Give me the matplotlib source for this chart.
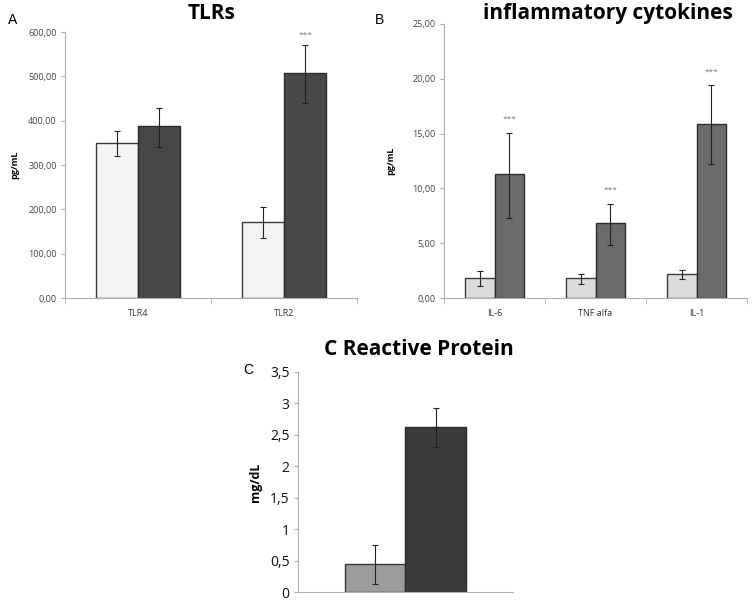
import matplotlib
matplotlib.use("Agg")
import matplotlib.pyplot as plt
import numpy as np

# ---- data ----
tlr_cats = ["TLR4", "TLR2"]
tlr_ctrl = [350, 172]
tlr_ctrl_err_lo = [30, 37]
tlr_ctrl_err_hi = [26, 33]
tlr_pat = [387, 507]
tlr_pat_err_lo = [47, 67]
tlr_pat_err_hi = [41, 63]
tlr_sig = ["", "***"]

cyt_cats = ["IL-6", "TNF alfa", "IL-1"]
cyt_ctrl = [1.85, 1.8, 2.2]
cyt_ctrl_err_lo = [0.75, 0.5, 0.5]
cyt_ctrl_err_hi = [0.65, 0.4, 0.4]
cyt_pat = [11.3, 6.8, 15.9]
cyt_pat_err_lo = [4.0, 2.0, 3.7]
cyt_pat_err_hi = [3.8, 1.8, 3.5]
cyt_sig = ["***", "***", "***"]

crp_ctrl = [0.45]
crp_ctrl_err_lo = [0.33]
crp_ctrl_err_hi = [0.30]
crp_pat = [2.63]
crp_pat_err_lo = [0.32]
crp_pat_err_hi = [0.30]

tlr_yticks = [0, 100, 200, 300, 400, 500, 600]
cyt_yticks = [0, 5, 10, 15, 20, 25]
crp_yticks = [0, 0.5, 1, 1.5, 2, 2.5, 3, 3.5]

FONT = ["Open Sans", "DejaVu Sans"]
plt.rcParams['font.family'] = FONT

fig = plt.figure(figsize=(7.54, 6.0), dpi=100)

def comma(v, dec):
    s = f"{v:.{dec}f}" if dec > 0 else (f"{v:g}")
    return s.replace(".", ",")

def style_axes(ax, ncat, yticks, dec, tick_fs, tick_col="#444444"):
    for s in ["top", "right"]:
        ax.spines[s].set_visible(False)
    for s in ["left", "bottom"]:
        ax.spines[s].set_color("#b0b0b0")
        ax.spines[s].set_linewidth(0.8)
    ax.set_xlim(-0.5, ncat - 0.5)
    ax.set_ylim(yticks[0], yticks[-1])
    ax.set_yticks(yticks)
    ax.set_yticklabels([comma(v, dec) for v in yticks], fontsize=tick_fs, color=tick_col)
    ax.tick_params(axis="y", length=3, color="#b0b0b0", pad=3)
    ax.set_xticks(np.arange(ncat))
    ax.set_xticks(np.arange(ncat + 1) - 0.5, minor=True)
    ax.tick_params(axis="x", which="major", length=0, pad=8)
    ax.tick_params(axis="x", which="minor", length=4, color="#b0b0b0")

def draw_pair(ax, x, c, clo, chi, p, plo, phi, w, ccol, pcol):
    ax.bar(x - w / 2, c, width=w, color=ccol, edgecolor="#3a3a3a", linewidth=1.0, zorder=2)
    ax.bar(x + w / 2, p, width=w, color=pcol, edgecolor="#2a2a2a", linewidth=1.0, zorder=2)
    ax.errorbar(x - w / 2, c, yerr=[clo, chi], fmt="none", ecolor="#222222",
                elinewidth=0.8, capsize=2.5, capthick=0.8, zorder=3)
    ax.errorbar(x + w / 2, p, yerr=[plo, phi], fmt="none", ecolor="#222222",
                elinewidth=0.8, capsize=2.5, capthick=0.8, zorder=3)

# ---- Panel A ----
axA = fig.add_axes([0.0862, 0.5033, 0.3873, 0.4433])
xA = np.arange(len(tlr_cats))
wA = 0.29
draw_pair(axA, xA, tlr_ctrl, tlr_ctrl_err_lo, tlr_ctrl_err_hi,
          tlr_pat, tlr_pat_err_lo, tlr_pat_err_hi, wA, "#f4f4f4", "#474747")
style_axes(axA, len(tlr_cats), tlr_yticks, 2, 6.5)
axA.set_xticklabels(tlr_cats, fontsize=6.5, color="#333333")
for i, s in enumerate(tlr_sig):
    if s:
        axA.text(xA[i] + wA / 2, tlr_pat[i] + tlr_pat_err_hi[i] + 15, s,
                 ha="center", va="bottom", fontsize=6, color="#777777")
axA.set_ylabel("pg/mL", fontsize=6.5, fontweight="bold", labelpad=6)
fig.text(0.28, 0.978, "TLRs", ha="center", va="center", fontsize=15, fontweight="bold")
fig.text(0.011, 0.966, "A", ha="left", va="center", fontsize=10, family=["Liberation Sans"])

# ---- Panel B ----
axB = fig.add_axes([0.5889, 0.5033, 0.4019, 0.4567])
xB = np.arange(len(cyt_cats))
wB = 0.29
draw_pair(axB, xB, cyt_ctrl, cyt_ctrl_err_lo, cyt_ctrl_err_hi,
          cyt_pat, cyt_pat_err_lo, cyt_pat_err_hi, wB, "#dcdcdc", "#6b6b6b")
style_axes(axB, len(cyt_cats), cyt_yticks, 2, 6.5)
axB.set_xticklabels(cyt_cats, fontsize=6.5, color="#333333")
for i, s in enumerate(cyt_sig):
    if s:
        axB.text(xB[i] + wB / 2, cyt_pat[i] + cyt_pat_err_hi[i] + 0.9, s,
                 ha="center", va="bottom", fontsize=6, color="#777777")
axB.set_ylabel("pg/mL", fontsize=6.5, fontweight="bold", labelpad=12)
fig.text(0.806, 0.978, "inflammatory cytokines", ha="center", va="center",
         fontsize=15, fontweight="bold")
fig.text(0.497, 0.966, "B", ha="left", va="center", fontsize=10, family=["Liberation Sans"])

# ---- Panel C ----
axC = fig.add_axes([0.3952, 0.01333, 0.2851, 0.3667])
xC = np.arange(1)
wC = 0.28
draw_pair(axC, xC, crp_ctrl, crp_ctrl_err_lo, crp_ctrl_err_hi,
          crp_pat, crp_pat_err_lo, crp_pat_err_hi, wC, "#9c9c9c", "#3c3c3c")
style_axes(axC, 1, crp_yticks, 0, 10, tick_col="#111111")
axC.set_xticklabels([""])
axC.tick_params(axis="x", which="minor", length=0)
axC.set_ylabel("mg/dL", fontsize=9, fontweight="bold", labelpad=6)
fig.text(0.555, 0.418, "C Reactive Protein", ha="center", va="center",
         fontsize=15, fontweight="bold")
fig.text(0.329, 0.384, "C", ha="center", va="center", fontsize=10, family=["Liberation Sans"])

fig.savefig("out.png", dpi=100)
